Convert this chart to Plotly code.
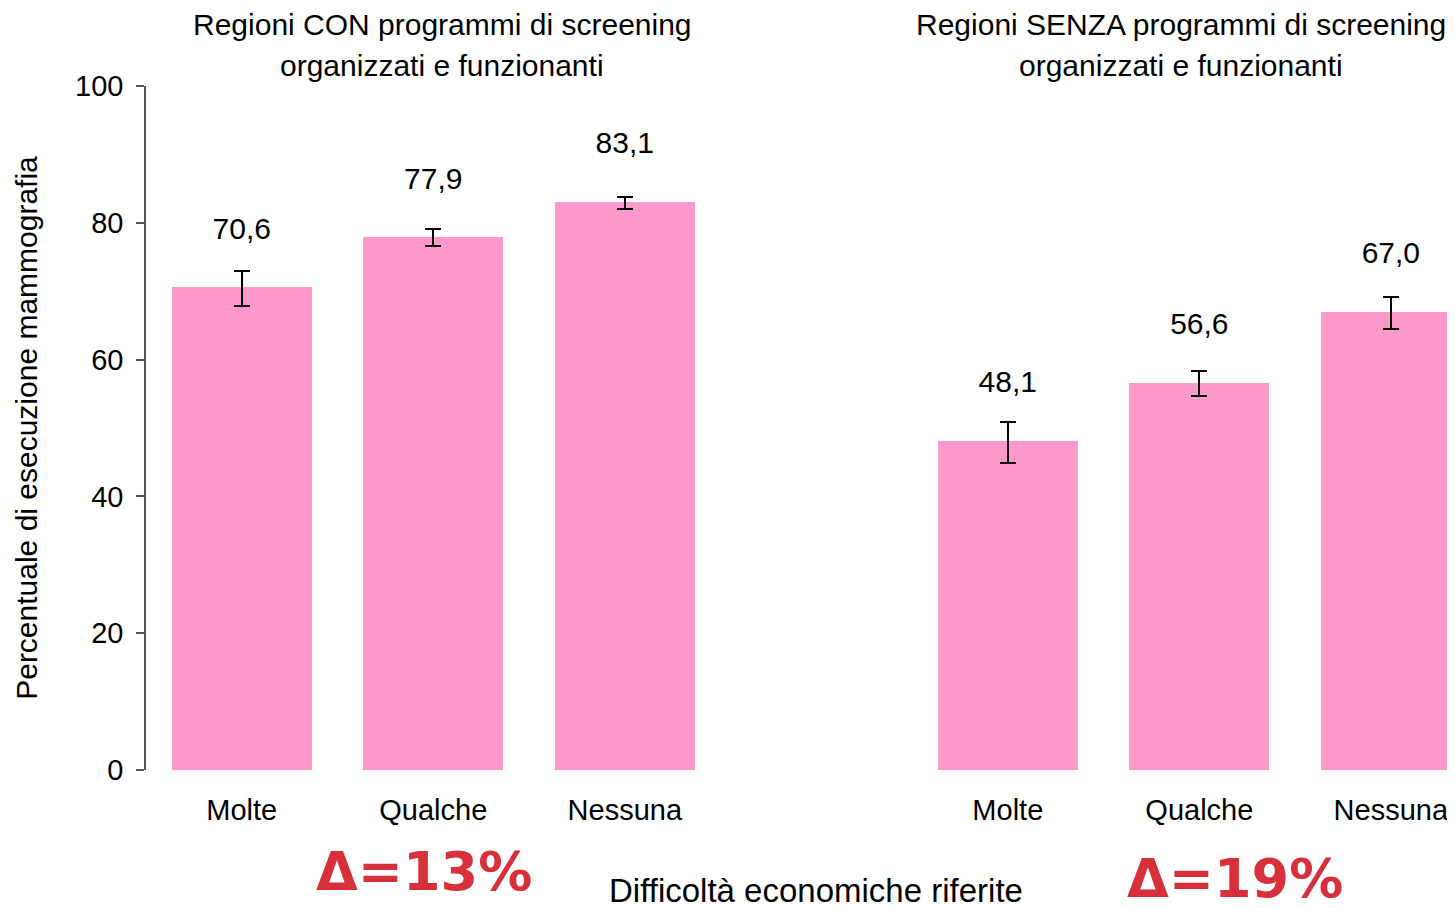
import plotly.graph_objects as go

PINK = "#FF99CC"
RED = "#D7303A"
FONT = "Liberation Sans, Arial, sans-serif"

# slot 3 is the empty gap between the two groups
positions = [0, 1, 2, 4, 5, 6]
categories = ["Molte", "Qualche", "Nessuna", "Molte", "Qualche", "Nessuna"]
values = [70.6, 77.9, 83.1, 48.1, 56.6, 67.0]
err_plus = [2.4, 1.2, 0.6, 2.8, 1.7, 2.2]
err_minus = [2.8, 1.3, 1.1, 3.2, 1.9, 2.5]
value_labels = ["70,6", "77,9", "83,1", "48,1", "56,6", "67,0"]

title_lines_con = ["Regioni CON programmi di screening", "organizzati e funzionanti"]
title_lines_senza = ["Regioni SENZA programmi di screening", "organizzati e funzionanti"]
deltas = ["Δ=13%", "Δ=19%"]

# the browser page has an 8px body margin, so the figure is shrunk by that much
W, H = 1447, 900
MT, MB, ML = 78, 138, 138
PH = H - MT - MB


def py(px):
    """pixel row (from top of the figure) -> paper y"""
    return (H - MB - px) / PH


fig = go.Figure()

fig.add_trace(go.Bar(
    x=positions,
    y=values,
    width=0.73,
    marker=dict(color=PINK, line=dict(width=0)),
    error_y=dict(
        type="data",
        symmetric=False,
        array=err_plus,
        arrayminus=err_minus,
        color="black",
        thickness=2,
        width=8,
    ),
    showlegend=False,
    hoverinfo="skip",
))

# value labels above each bar
fig.add_trace(go.Scatter(
    x=positions,
    y=[v + 8.2 for v in values],
    mode="text",
    text=value_labels,
    textfont=dict(family=FONT, size=30, color="black"),
    showlegend=False,
    hoverinfo="skip",
    cliponaxis=False,
))

annotations = []
for lines, cx in ((title_lines_con, 1.046), (title_lines_senza, 4.905)):
    for i, line in enumerate(lines):
        annotations.append(dict(
            text=line, x=cx, xref="x", y=py(17 + 40 * i), yref="paper",
            showarrow=False, font=dict(family=FONT, size=30, color="black"),
            xanchor="center", yanchor="middle",
        ))

annotations.append(dict(
    text="Difficoltà economiche riferite", x=3, xref="x",
    y=py(882), yref="paper", showarrow=False,
    font=dict(family=FONT, size=33, color="black"),
    xanchor="center", yanchor="middle",
))
for txt, cx, cy in zip(deltas, [0.95, 5.187], [863, 870]):
    annotations.append(dict(
        text="<b>" + txt + "</b>", x=cx, xref="x",
        y=py(cy), yref="paper", showarrow=False,
        font=dict(family="DejaVu Sans", size=54, color=RED),
        xanchor="center", yanchor="middle",
    ))

fig.update_layout(
    width=W,
    height=H,
    margin=dict(l=ML, r=0, t=MT, b=MB),
    paper_bgcolor="white",
    plot_bgcolor="white",
    font=dict(family=FONT, size=29, color="black"),
    annotations=annotations,
    bargap=0,
    xaxis=dict(
        range=[-0.5, 6.335],
        tickvals=positions,
        ticktext=categories,
        showline=False,
        showgrid=False,
        zeroline=False,
        ticks="",
        ticklabelstandoff=20,
        tickfont=dict(family=FONT, size=29, color="black"),
    ),
    yaxis=dict(
        range=[0, 100],
        dtick=20,
        showline=True,
        linecolor="#555555",
        linewidth=1.5,
        ticks="outside",
        ticklen=8,
        tickcolor="#555555",
        tickwidth=1.5,
        showgrid=False,
        zeroline=False,
        ticklabelstandoff=7,
        tickfont=dict(family=FONT, size=29, color="black"),
        title=dict(
            text="Percentuale di esecuzione mammografia",
            font=dict(family=FONT, size=30, color="black"),
            standoff=29,
        ),
    ),
)

fig.write_html("out.html")
